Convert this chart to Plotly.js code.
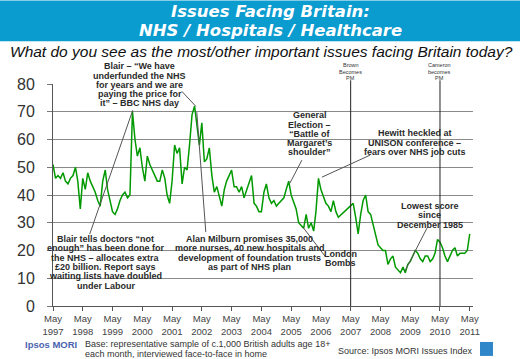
<!DOCTYPE html>
<html>
<head>
<meta charset="utf-8">
<script src="https://cdn.plot.ly/plotly-3.0.1.min.js"></script>
<style>html,body{margin:0;padding:0;background:#fff;}#chart{width:520px;height:359px;}</style>
</head>
<body>
<div id="chart"></div>
<script>
// ---- data ----
const startYear = 1997;
const startMonth = 5; // May
// Monthly % naming NHS / Hospitals / Healthcare (null = no survey point)
const nhsValues = [
  51, 46, 47, 46, 48, 45, 44, 46, 47, 50, 45, 35,
  46, 42, 48, 45, 43, 41, 38, 36, 45, 49, 42, 38,
  34, 33, 35, 38, 40, 41, 39, 40, 70, 60, 54, 57,
  50, 45, 54, 51, 49, 47, 45, 45, 49, 46, 40, 37,
  45, 58, 55, 57, 44, 50, 49, 58, 69, 72, 65, 58,
  66, 52, 53, 57, 47, 41, 43, 39, 36, 42, 45, 47,
  49, 43, 43, 41, 43, 39, 42, 44, 47, 37, 36, 34,
  34, 41, 44, 39, 37, 38, 36, 37, 38, 39, 42, 45,
  40, 37, 35, 30, 29, 28, 33, 28, 30, 27, 34, 46,
  42, 39, 37, 36, 34, 38, 34, 32, null, null, null, null,
  null, 37, 32, 26, 33, 38, 40, 34, 33, 29, 25, 22,
  21, 20, 20, 15, 17, 18, 14, 13, 12, 14, 12, 15,
  16, 18, 20, 19, 17, 16, 18, 18, 16, 17, 19, 24,
  23, 21, 18, 16, 18, 20, 21, 18, 19, 19, 19, 20,
  26
];
const yTicks = [0, 10, 20, 30, 40, 50, 60, 70, 80];
const titleLines = ['Issues Facing Britain:', 'NHS / Hospitals / Healthcare'];
const pmChanges = [
  {date: '2007-05-01', lines: ['Brown', 'Becomes', 'PM']},
  {date: '2010-05-01', lines: ['Cameron', 'becomes', 'PM']}
];
const events = [
  {lines: ['Blair \u2013 \u201cWe have', 'underfunded the NHS', 'for years and we are', 'paying the price for', 'it\u201d \u2013 BBC NHS day'], x: 140, y: 66, pointers: [[182, 91, 196, 106]]},
  {lines: ['Blair tells doctors \u201cnot', 'enough\u201d has been done for', 'the NHS \u2013 allocates extra', '\u00a320 billion. Report says', 'waiting lists have doubled', 'under Labour'], x: 106, y: 239, pointers: [[90, 234, 133, 110]]},
  {lines: ['Alan Milburn promises 35,000', 'more nurses, 40 new hospitals and', 'development of foundation trusts', 'as part of NHS plan'], x: 250, y: 239, pointers: [[206, 232, 197, 112]]},
  {lines: ['General', 'Election \u2013', '\u201cBattle of', 'Margaret\u2019s', 'shoulder\u201d'], x: 310, y: 115, pointers: [[302, 160, 290, 183]]},
  {lines: ['Hewitt heckled at', 'UNISON conference \u2013', 'fears over NHS job cuts'], x: 415, y: 133, pointers: [[370, 155, 322, 177]]},
  {lines: ['London', 'Bombs'], x: 341, y: 254, pointers: [[325, 256, 303, 227]]},
  {lines: ['Lowest score', 'since', 'December 1985'], x: 430, y: 206, pointers: [[427, 228, 405, 271]]}
];

// ---- build ----
const months = nhsValues.map((_, i) => {
  const t = (startMonth - 1) + i;
  const y = startYear + Math.floor(t / 12);
  const m = (t % 12) + 1;
  return y + '-' + String(m).padStart(2, '0') + '-01';
});

const PL = 53.3, PR = 473, PT = 83.7, PB = 306;
const fx = x => (x - PL) / (PR - PL);
const fy = y => (PB - y) / (PB - PT);
const FONT = 'Arial, "Liberation Sans", sans-serif';
const TFONT = '"DejaVu Sans", Arial, sans-serif';

const shapes = [];
const annotations = [];

// banner
shapes.push({type: 'rect', xref: 'paper', yref: 'paper', x0: fx(0), x1: fx(520), y0: fy(41), y1: fy(0),
  fillcolor: '#0a9bcf', line: {width: 0}, layer: 'below'});
titleLines.forEach((t, k) => {
  annotations.push({xref: 'paper', yref: 'paper', x: fx(271), y: fy(11 + k * 19.5),
    text: '<b><i>' + t + '</i></b>', showarrow: false, xanchor: 'center', yanchor: 'middle',
    borderpad: 0, font: {family: TFONT, size: 16.5, color: '#ffffff'}});
});
annotations.push({xref: 'paper', yref: 'paper', x: fx(262), y: fy(51), text: '<i>What do you see as the most/other important issues facing Britain today?</i>',
  showarrow: false, xanchor: 'center', yanchor: 'middle', borderpad: 0, font: {family: FONT, size: 15.5, color: '#111111'}});

// PM change lines
pmChanges.forEach(p => {
  shapes.push({type: 'line', xref: 'x', yref: 'paper', x0: p.date, x1: p.date, y0: 0, y1: fy(80),
    line: {color: '#222', width: 1}});
  p.lines.forEach((t, k) => {
    annotations.push({xref: 'x', yref: 'paper', x: p.date, y: fy(65 + k * 6.5), text: t, showarrow: false,
      xanchor: 'center', yanchor: 'middle', font: {family: FONT, size: 5.5, color: '#333'}});
  });
});

// event annotations
events.forEach(e => {
  e.lines.forEach((t, k) => {
    annotations.push({xref: 'paper', yref: 'paper', x: fx(e.x), y: fy(e.y + k * 9.3), text: '<b>' + t + '</b>', showarrow: false,
      xanchor: 'center', yanchor: 'middle', font: {family: FONT, size: 9, color: '#2a2a2a'}});
  });
  e.pointers.forEach(p => {
    shapes.push({type: 'line', xref: 'paper', yref: 'paper', x0: fx(p[0]), y0: fy(p[1]), x1: fx(p[2]), y1: fy(p[3]),
      line: {color: '#555', width: 1}});
  });
});

// footer
annotations.push({xref: 'paper', yref: 'paper', x: fx(23), y: fy(345), text: '<b>Ipsos MORI</b>', showarrow: false,
  xanchor: 'left', yanchor: 'middle', font: {family: FONT, size: 9.5, color: '#4a63b0'}});
annotations.push({xref: 'paper', yref: 'paper', x: fx(83), y: fy(344), text: 'Base: representative sample of c.1,000 British adults age 18+', showarrow: false,
  xanchor: 'left', yanchor: 'middle', font: {family: FONT, size: 9, color: '#333'}});
annotations.push({xref: 'paper', yref: 'paper', x: fx(83), y: fy(354), text: 'each month, interviewed face-to-face in home', showarrow: false,
  xanchor: 'left', yanchor: 'middle', font: {family: FONT, size: 9, color: '#333'}});
annotations.push({xref: 'paper', yref: 'paper', x: fx(475), y: fy(351), text: 'Source: Ipsos MORI Issues Index', showarrow: false,
  xanchor: 'right', yanchor: 'middle', font: {family: FONT, size: 9, color: '#333'}});
shapes.push({type: 'rect', xref: 'paper', yref: 'paper', x0: fx(480), x1: fx(493), y0: fy(356), y1: fy(342),
  fillcolor: '#2f86c8', line: {width: 0}});

const trace = {
  type: 'scatter', mode: 'lines', x: months, y: nhsValues, connectgaps: true,
  line: {color: '#009a00', width: 1.5}, hoverinfo: 'skip'
};

const layout = {
  width: 520, height: 359,
  margin: {l: 53, r: 47, t: 84, b: 53, pad: 0},
  paper_bgcolor: '#ffffff', plot_bgcolor: '#ffffff',
  showlegend: false,
  font: {family: FONT, color: '#333'},
  xaxis: {
    type: 'date', range: ['1997-05-01', '2011-06-10'],
    tick0: '1997-05-01', dtick: 'M12', tickformat: '%b<br>%Y',
    showgrid: false, zeroline: false,
    showline: true, linecolor: '#555', linewidth: 1,
    ticks: 'outside', ticklen: 4, tickcolor: '#555',
    tickfont: {family: FONT, size: 9.5, color: '#444'}
  },
  yaxis: {
    range: [0, 80], tickvals: yTicks, ticktext: yTicks.map(String),
    showgrid: true, gridcolor: '#8a8a8a', gridwidth: 1, zeroline: false,
    showline: true, linecolor: '#555', linewidth: 1,
    ticks: 'outside', ticklen: 5, tickcolor: '#777',
    ticklabelstandoff: 9,
    tickfont: {family: FONT, size: 16, color: '#333'}
  },
  shapes: shapes,
  annotations: annotations
};

Plotly.newPlot('chart', [trace], layout, {staticPlot: true, displayModeBar: false});
</script>
</body>
</html>
